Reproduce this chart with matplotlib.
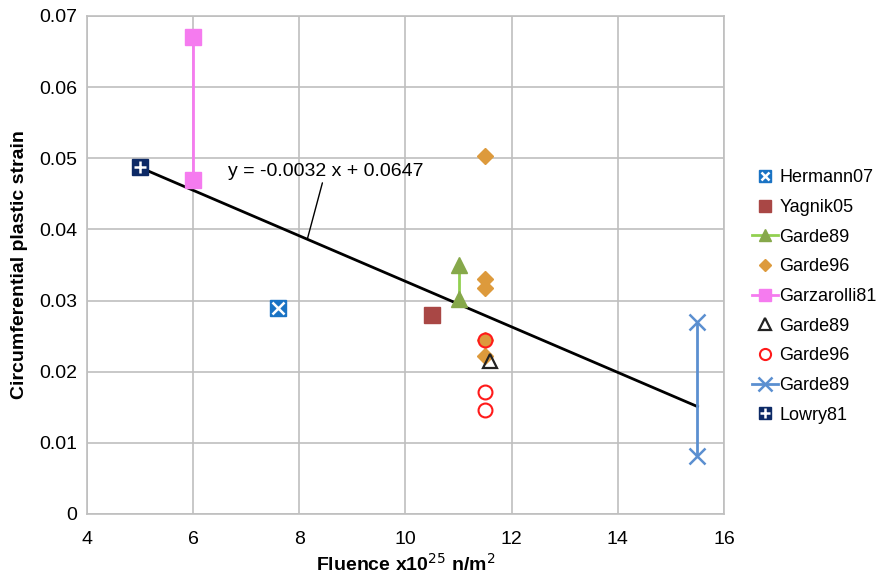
import numpy as np
import matplotlib.pyplot as plt

plt.rcParams["font.family"] = ["Liberation Sans", "DejaVu Sans"]

# data
herm_x, herm_y = [7.6], [0.029]
yag_x, yag_y = [10.5], [0.028]
g89a_x, g89a_y = [11.0, 11.0], [0.0350, 0.0302]
g96a_x = [11.5, 11.5, 11.5, 11.5, 11.5]
g96a_y = [0.0503, 0.0330, 0.0317, 0.0244, 0.0222]
garz_x, garz_y = [6.0, 6.0], [0.0670, 0.0470]
g89b_x, g89b_y = [11.6], [0.0215]
g96b_x, g96b_y = [11.5, 11.5, 11.5], [0.0245, 0.0172, 0.0146]
g89c_x, g89c_y = [15.5, 15.5], [0.0270, 0.0082]
lowry_x, lowry_y = [5.0], [0.0488]

slope, intercept = -0.0032, 0.0647
fit_x = np.array([5.0, 15.5])

fig = plt.figure(figsize=(8.85, 5.77), dpi=100)
ax = fig.add_axes([87 / 885, 63 / 577, 637 / 885, 498 / 577])

ax.plot(fit_x, slope * fit_x + intercept, color="black", lw=2, zorder=3)

h1 = ax.plot(herm_x, herm_y, ls="none", marker="s", ms=11, color="#1a73c4", zorder=4)[0]
h1b = ax.plot(herm_x, herm_y, ls="none", marker="x", ms=8, mew=1.8, color="white", zorder=5)[0]
h2 = ax.plot(yag_x, yag_y, ls="none", marker="s", ms=11, color="#a94745", zorder=4)[0]
h3 = ax.plot(g89a_x, g89a_y, marker="^", ms=11, lw=2, color="#92d050",
             mfc="#86a84a", mec="#86a84a", zorder=4)[0]
h4 = ax.plot(g96a_x, g96a_y, ls="none", marker="D", ms=8, color="#dd9a3c", zorder=4)[0]
h5 = ax.plot(garz_x, garz_y, marker="s", ms=11, color="#f57bef", lw=2, zorder=4)[0]
h6 = ax.plot(g89b_x, g89b_y, ls="none", marker="^", ms=10, mfc="none", mec="#222222", mew=1.6, zorder=4)[0]
h7 = ax.plot(g96b_x, g96b_y, ls="none", marker="o", ms=10, mfc="none", mec="#ff1a1a", mew=1.5, zorder=4)[0]
h8 = ax.plot(g89c_x, g89c_y, marker="x", ms=12, mew=1.8, lw=2, color="#5b8fd0", zorder=4)[0]
h9 = ax.plot(lowry_x, lowry_y, ls="none", marker="s", ms=11, color="#0d2a66", zorder=4)[0]
h9b = ax.plot(lowry_x, lowry_y, ls="none", marker="+", ms=9, mew=1.8, color="white", zorder=5)[0]

ax.annotate(f"y = {slope} x + {intercept}", xy=(8.15, slope * 8.15 + intercept),
            xytext=(6.65, 0.0475), fontsize=14,
            arrowprops=dict(arrowstyle="-", color="black", lw=1, shrinkA=0, shrinkB=0))

ax.set_xlim(4, 16)
ax.set_ylim(0, 0.07)
ax.set_xticks(np.arange(4, 17, 2))
ax.set_yticks(np.arange(0, 0.071, 0.01))
ax.set_yticklabels(["0"] + [f"{v:.2f}" for v in np.arange(0.01, 0.071, 0.01)])
ax.tick_params(labelsize=14, length=0)
ax.tick_params(axis="x", pad=12)
ax.tick_params(axis="y", pad=7)
ax.grid(True, color="#bfbfbf", lw=1.2)
ax.set_axisbelow(True)
for s in ax.spines.values():
    s.set_color("#bfbfbf")
    s.set_linewidth(1.2)

ax.set_xlabel(r"Fluence x10$^{25}$ n/m$^{2}$", fontsize=14, fontweight="bold", labelpad=4)
ax.set_ylabel("Circumferential plastic strain", fontsize=14, fontweight="bold", labelpad=8)

handles = [(h1, h1b), h2, h3, h4, h5, h6, h7, h8, (h9, h9b)]
labels = ["Hermann07", "Yagnik05", "Garde89", "Garde96", "Garzarolli81",
          "Garde89", "Garde96", "Garde89", "Lowry81"]
leg = fig.legend(handles, labels, loc="upper left", bbox_to_anchor=(747 / 885, 1 - 164 / 577),
                 frameon=False, fontsize=13, handlelength=1.4, handletextpad=0.1,
                 labelspacing=0.7, markerscale=0.8, borderaxespad=0, borderpad=0.3)

fig.savefig("out.png", dpi=100)
